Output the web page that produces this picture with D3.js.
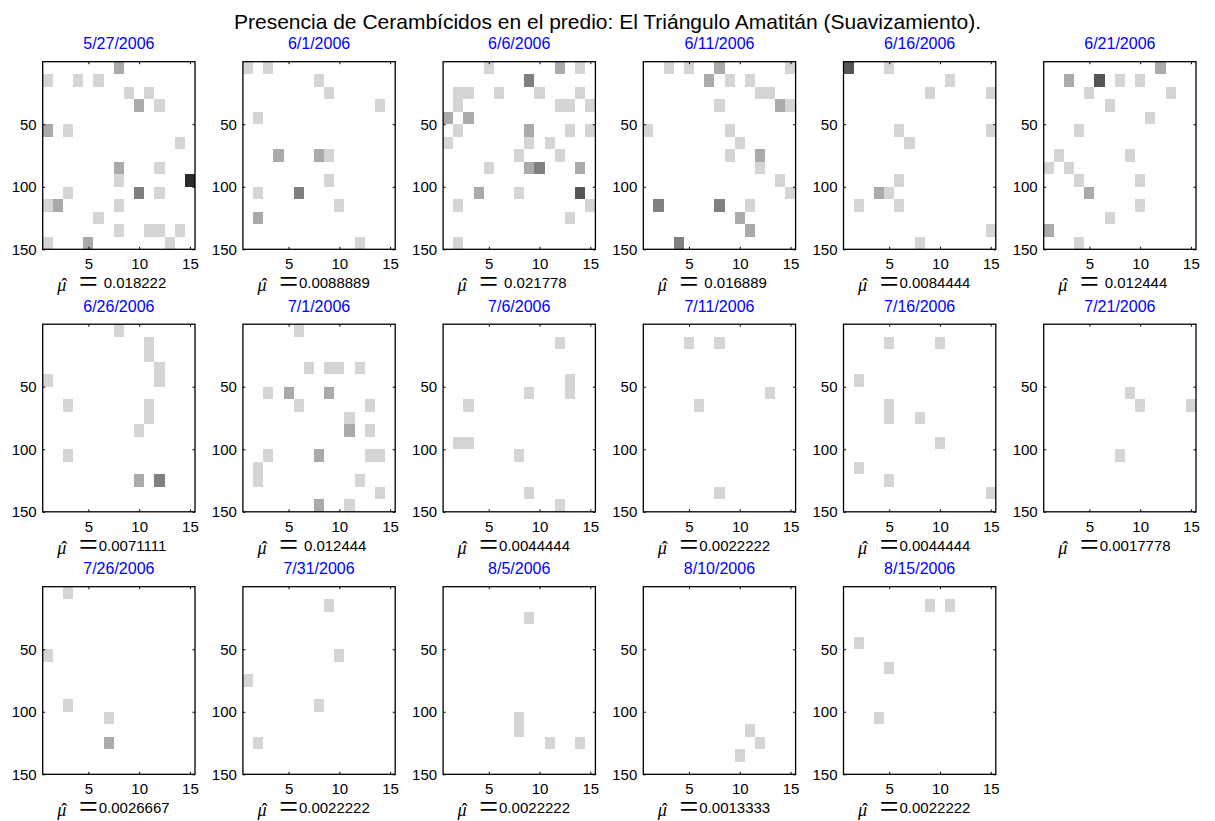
<!DOCTYPE html>
<html>
<head>
<meta charset="utf-8">
<script src="https://cdn.jsdelivr.net/npm/d3@7"></script>
<style>
  body { margin: 0; background: #fff; }
  text { font-family: "Liberation Sans", Arial, sans-serif; }
</style>
</head>
<body>
<div id="my_dataviz"></div>
<script>

var titulo = "Presencia de Cerambícidos en el predio: El Triángulo Amatitán (Suavizamiento).";

// sample dates, one panel each
var fechas = ["5/27/2006", "6/1/2006", "6/6/2006", "6/11/2006", "6/16/2006", "6/21/2006",
              "6/26/2006", "7/1/2006", "7/6/2006", "7/11/2006", "7/16/2006", "7/21/2006",
              "7/26/2006", "7/31/2006", "8/5/2006", "8/10/2006", "8/15/2006"];

// estimated mean shown under each panel
var medias = ["0.018222", "0.0088889", "0.021778", "0.016889", "0.0084444", "0.012444",
              "0.0071111", "0.012444", "0.0044444", "0.0022222", "0.0044444", "0.0017778",
              "0.0026667", "0.0022222", "0.0022222", "0.0013333", "0.0022222"];

// non empty cells of every panel: [column, row, count]
// rows go 1..15 from the top, each row covers 10 units of the y axis
var celdas = [
  [[8,1,2],[1,2,1],[4,2,1],[6,2,1],[9,3,1],[11,3,1],[10,4,2],[12,4,1],[1,6,2],[3,6,1],
   [14,7,1],[8,9,2],[12,9,1],[8,10,1],[15,10,5],[3,11,1],[10,11,3],[12,11,1],[1,12,1],
   [2,12,2],[8,12,1],[6,13,1],[8,14,1],[11,14,1],[12,14,1],[14,14,1],[1,15,1],[5,15,2],[13,15,1]],
  [[1,1,1],[3,1,1],[8,2,1],[9,3,1],[14,4,1],[2,5,1],[4,8,2],[8,8,2],[9,8,1],[9,10,1],
   [2,11,1],[6,11,3],[10,12,1],[2,13,2],[12,15,1]],
  [[5,1,1],[12,1,2],[14,1,1],[9,2,3],[2,3,1],[3,3,1],[6,3,1],[10,3,1],[14,3,1],[2,4,1],
   [12,4,1],[13,4,1],[15,4,1],[1,5,2],[3,5,2],[2,6,1],[9,6,2],[13,6,1],[15,6,1],[1,7,1],
   [9,7,1],[11,7,1],[8,8,1],[12,8,1],[5,9,1],[9,9,2],[10,9,3],[14,9,2],[4,11,2],[8,11,1],
   [14,11,4],[2,12,1],[15,12,1],[13,13,1],[2,15,1]],
  [[3,1,1],[5,1,1],[8,1,2],[15,1,1],[7,2,2],[9,2,1],[11,2,1],[12,3,1],[13,3,1],[8,4,1],
   [14,4,2],[15,4,1],[1,6,1],[9,6,1],[10,7,1],[9,8,1],[12,8,2],[12,9,1],[14,10,1],[15,11,1],
   [2,12,3],[8,12,3],[11,12,1],[10,13,2],[11,14,2],[4,15,3]],
  [[1,1,4],[5,1,1],[11,2,1],[9,3,1],[15,3,1],[6,6,1],[15,6,1],[7,7,1],[6,10,1],[4,11,2],
   [5,11,1],[2,12,1],[6,12,1],[15,14,1],[8,15,1]],
  [[12,1,2],[3,2,2],[6,2,4],[8,2,1],[10,2,1],[5,3,1],[13,3,1],[7,4,1],[11,5,1],[4,6,1],
   [2,8,1],[9,8,1],[1,9,1],[3,9,1],[4,10,1],[10,10,1],[5,11,2],[10,12,1],[7,13,1],[1,14,2],[4,15,1]],
  [[8,1,1],[11,2,1],[11,3,1],[12,4,1],[12,5,1],[1,5,1],[3,7,1],[11,7,1],[11,8,1],[10,9,1],
   [3,11,1],[10,13,2],[12,13,3]],
  [[6,1,1],[7,4,1],[9,4,1],[10,4,1],[12,4,1],[3,6,1],[5,6,2],[9,6,2],[6,7,1],[13,7,1],
   [11,8,1],[11,9,2],[13,9,1],[3,11,1],[8,11,2],[13,11,1],[14,11,1],[2,12,1],[2,13,1],
   [12,13,1],[14,14,1],[8,15,2],[11,15,1]],
  [[12,2,1],[13,5,1],[13,6,1],[9,6,1],[3,7,1],[2,10,1],[3,10,1],[8,11,1],[9,14,1],[12,15,1]],
  [[5,2,1],[8,2,1],[13,6,1],[6,7,1],[8,14,1]],
  [[5,2,1],[10,2,1],[2,5,1],[5,7,1],[5,8,1],[8,8,1],[10,10,1],[2,12,1],[5,13,1],[15,14,1]],
  [[9,6,1],[10,7,1],[15,7,1],[8,11,1]],
  [[3,1,1],[1,6,1],[3,10,1],[7,11,1],[7,13,2]],
  [[9,2,1],[10,6,1],[1,8,1],[8,10,1],[2,13,1]],
  [[9,3,1],[8,11,1],[8,12,1],[11,13,1],[14,13,1]],
  [[11,12,1],[12,13,1],[10,14,1]],
  [[9,2,1],[11,2,1],[2,5,1],[5,7,1],[4,11,1]]
];

var xTicks = [5, 10, 15];
var yTicks = [50, 100, 150];

// panel size and the grid of panels
var width = 152.3, height = 187.6,
    left0 = 42.7, top0 = 61.7,
    stepX = 200.2, stepY = 262.5,
    perRow = 6;

var svg = d3.select("#my_dataviz")
  .append("svg")
    .attr("width", 1215)
    .attr("height", 821);

svg.append("text")
  .attr("x", 607.5)
  .attr("y", 29)
  .attr("text-anchor", "middle")
  .style("font-size", "21px")
  .text(titulo);

var x = d3.scaleLinear().domain([0.5, 15.5]).range([0, width]);
var y = d3.scaleLinear().domain([0, 150]).range([0, height]);
var color = d3.scaleLinear().domain([0, 6]).range(["#ffffff", "#000000"]);

fechas.forEach(function(fecha, i) {
  var g = svg.append("g")
    .attr("transform", "translate(" + (left0 + (i % perRow) * stepX) + "," +
                                      (top0 + Math.floor(i / perRow) * stepY) + ")");

  // the cells
  g.selectAll("rect.cell")
    .data(celdas[i])
    .enter().append("rect")
      .attr("class", "cell")
      .attr("x", function(d) { return x(d[0] - 0.5); })
      .attr("y", function(d) { return y((d[1] - 1) * 10); })
      .attr("width", x(1.5) - x(0.5))
      .attr("height", y(10) - y(0))
      .attr("fill", function(d) { return color(d[2]); })
      .attr("shape-rendering", "crispEdges");

  // ticks on the four sides, pointing inside
  var axes = [
    [d3.axisBottom(x).tickValues(xTicks).tickPadding(9.3), "translate(0," + height + ")"],
    [d3.axisTop(x).tickValues(xTicks).tickFormat(""), null],
    [d3.axisLeft(y).tickValues(yTicks).tickPadding(6), null],
    [d3.axisRight(y).tickValues(yTicks).tickFormat(""), "translate(" + width + ",0)"]
  ];
  axes.forEach(function(a) {
    var ax = g.append("g")
      .call(a[0].tickSizeInner(-2.5).tickSizeOuter(0))
      .attr("font-size", 15)
      .attr("font-family", "Liberation Sans, Arial, sans-serif");
    if (a[1]) ax.attr("transform", a[1]);
    ax.select(".domain").remove();
    ax.selectAll("line").attr("stroke", "#000");
    ax.selectAll("text").attr("fill", "#000");
  });

  // box
  g.append("rect")
    .attr("width", width)
    .attr("height", height)
    .attr("fill", "none")
    .attr("stroke", "#000")
    .attr("stroke-width", 1.3);

  // date on top
  g.append("text")
    .attr("x", width / 2)
    .attr("y", -12.4)
    .attr("text-anchor", "middle")
    .attr("fill", "#0000ff")
    .style("font-size", "16px")
    .text(fecha);

  // mu hat label, one text with its pieces
  var base = height + 39;
  var lab = g.append("text")
    .attr("x", 14.5)
    .attr("y", base);
  lab.append("tspan")
    .attr("x", 14.5)
    .attr("y", base + 3)
    .style("font-family", "Liberation Serif, serif")
    .style("font-style", "italic")
    .style("font-size", "18px")
    .text("μ");
  lab.append("tspan")
    .attr("x", 18.5)
    .attr("y", base + 3)
    .style("font-family", "Liberation Serif, serif")
    .style("font-size", "18px")
    .text("ˆ");
  lab.append("tspan")
    .attr("x", 36)
    .attr("y", base + 5)
    .style("font-family", "Liberation Serif, serif")
    .style("font-size", "34px")
    .text("=");
  lab.append("tspan")
    .attr("x", medias[i].length < 9 ? 61 : 56)
    .attr("y", base)
    .style("font-size", "15px")
    .text(medias[i]);
});

</script>
</body>
</html>
